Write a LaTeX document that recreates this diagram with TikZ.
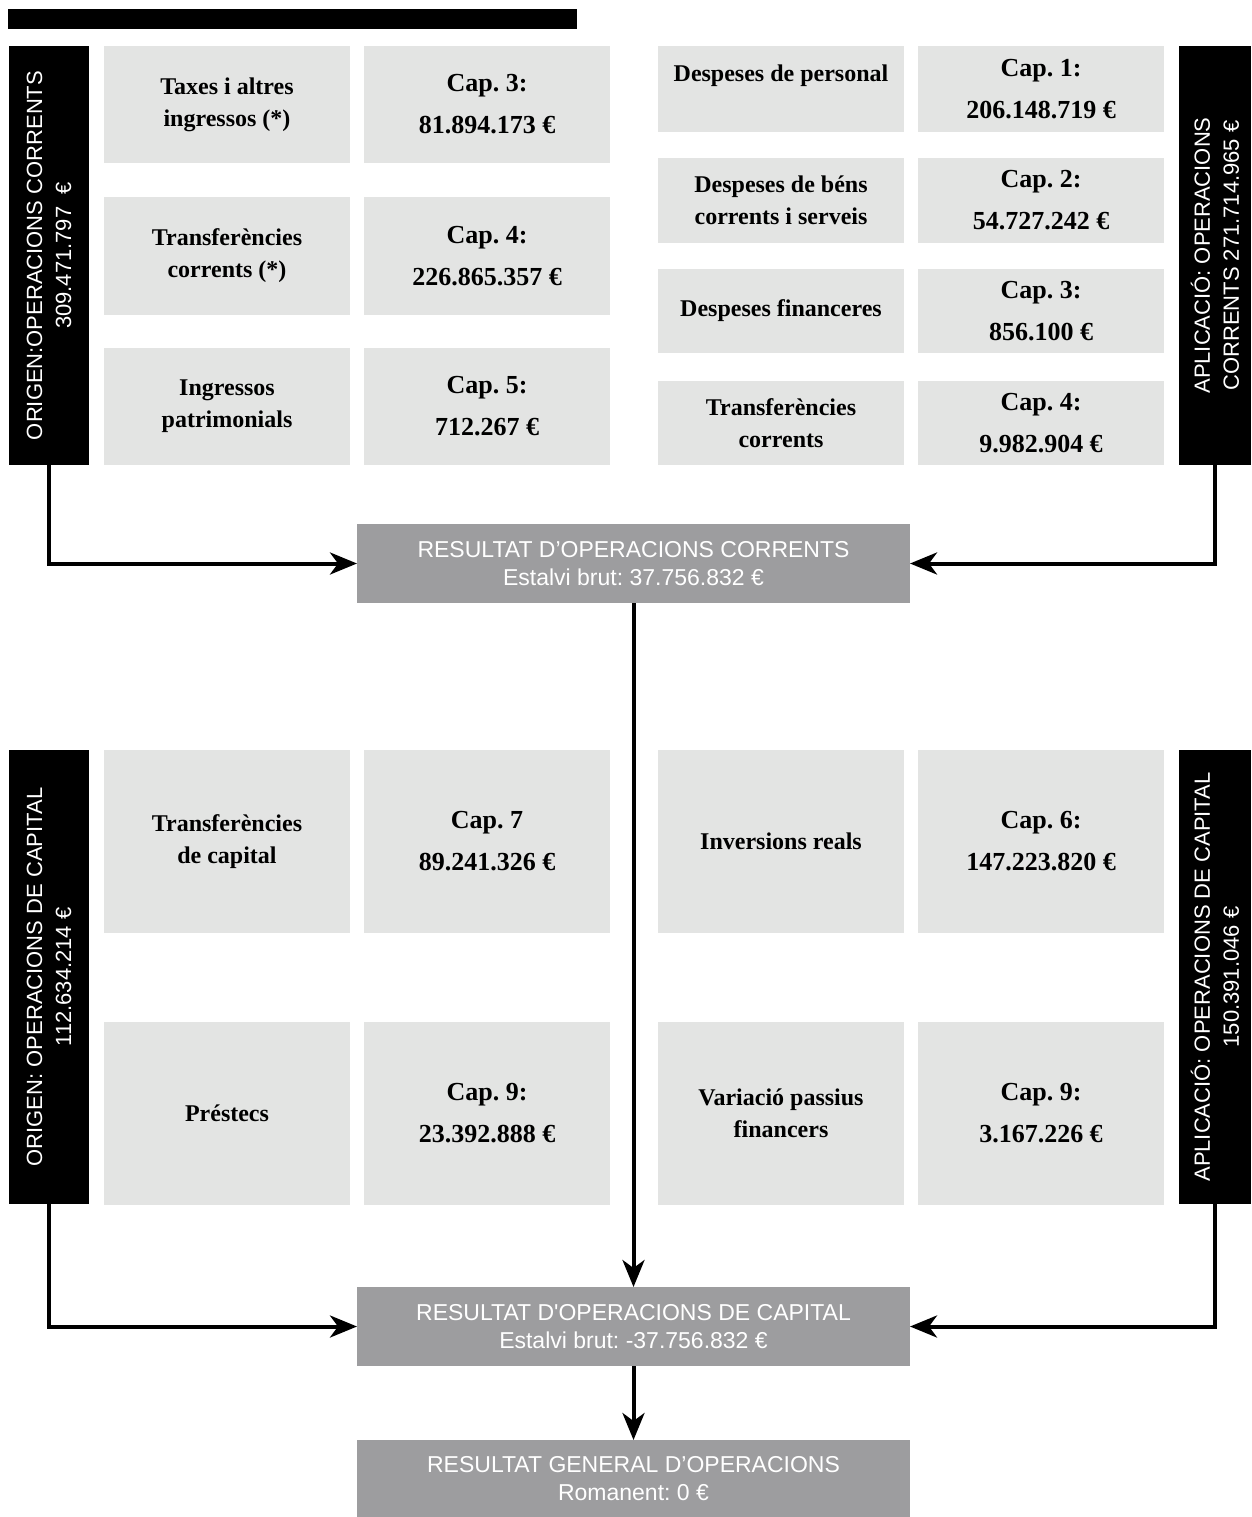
\documentclass[tikz,border=0pt]{standalone}
\usepackage{fontspec}
\setmainfont{Liberation Serif}
\setsansfont{Liberation Sans}
\usetikzlibrary{arrows.meta}
\definecolor{cellgrey}{HTML}{E3E4E3}
\definecolor{resultgrey}{HTML}{9D9D9F}
\frenchspacing
\tikzset{
  cell/.style={fill=cellgrey, inner sep=0pt, outer sep=0pt, minimum width=246pt, align=center},
  itembox/.style={cell, font=\bfseries\fontsize{24}{32}\selectfont},
  capbox/.style={cell, font=\bfseries\fontsize{26}{42}\selectfont},
  sidebox/.style={fill=black, text=white, rotate=90, inner sep=0pt, outer sep=0pt, align=center, font=\sffamily\fontsize{22}{29}\selectfont},
  result/.style={fill=resultgrey, text=white, inner sep=0pt, outer sep=0pt, minimum width=553pt, align=center, font=\sffamily\fontsize{23}{28}\selectfont},
  flow/.style={line width=4pt, -{Stealth[length=27pt,width=22pt,inset=8pt]}}
}
\begin{document}
\begin{tikzpicture}[x=1pt,y=-1pt]
      \useasboundingbox (0,0) rectangle (1251,1517);
      \node[fill=black, inner sep=0pt, minimum width=569pt, minimum height=20pt] (titlebar) at (292.5,19) {};
      % operacions corrents
      \node[sidebox, minimum width=419pt, minimum height=80pt] (lbox1) at (49,255.5) {ORIGEN:OPERACIONS CORRENTS\\309.471.797~~€};
      \node[itembox, minimum height=117pt] (taxes) at (227,104.5) {Taxes i altres\\ingressos (*)};
      \node[capbox, minimum height=117pt] (cap3in) at (487,104.5) {Cap. 3:\\81.894.173 €};
      \node[itembox, minimum height=118pt] (transin) at (227,256) {Transferències\\corrents (*)};
      \node[capbox, minimum height=118pt] (cap4in) at (487,256) {Cap. 4:\\226.865.357 €};
      \node[itembox, minimum height=117pt] (patrim) at (227,406.5) {Ingressos\\patrimonials};
      \node[capbox, minimum height=117pt] (cap5in) at (487,406.5) {Cap. 5:\\712.267 €};
      \node[itembox, minimum height=86pt] (personal) at (781,89) {Despeses de personal\\\mbox{}};
      \node[capbox, minimum height=86pt] (cap1out) at (1041,89) {Cap. 1:\\206.148.719 €};
      \node[itembox, minimum height=85pt] (bens) at (781,200.5) {Despeses de béns\\corrents i serveis};
      \node[capbox, minimum height=85pt] (cap2out) at (1041,200.5) {Cap. 2:\\54.727.242 €};
      \node[itembox, minimum height=84pt] (financ) at (781,311) {Despeses financeres};
      \node[capbox, minimum height=84pt] (cap3out) at (1041,311) {Cap. 3:\\856.100 €};
      \node[itembox, minimum height=84pt] (transout) at (781,423) {Transferències\\corrents};
      \node[capbox, minimum height=84pt] (cap4out) at (1041,423) {Cap. 4:\\9.982.904 €};
      \node[sidebox, minimum width=419pt, minimum height=72pt] (rbox1) at (1215,255.5) {APLICACIÓ: OPERACIONS\\CORRENTS 271.714.965 €};
      \node[result, minimum height=79pt] (res1) at (633.5,563.5) {RESULTAT D’OPERACIONS CORRENTS\\Estalvi brut: 37.756.832 €};
      % operacions de capital
      \node[sidebox, minimum width=454pt, minimum height=80pt] (lbox2) at (49,977) {ORIGEN: OPERACIONS DE CAPITAL\\112.634.214 €};
      \node[itembox, minimum height=183pt] (transcap) at (227,841.5) {Transferències\\de capital};
      \node[capbox, minimum height=183pt] (cap7in) at (487,841.5) {Cap. 7\\89.241.326 €};
      \node[itembox, minimum height=183pt] (prestecs) at (227,1113) {Préstecs};
      \node[capbox, minimum height=183pt] (cap9in) at (487,1113) {Cap. 9:\\23.392.888 €};
      \node[itembox, minimum height=183pt] (inversions) at (781,841.5) {Inversions reals};
      \node[capbox, minimum height=183pt] (cap6out) at (1041,841.5) {Cap. 6:\\147.223.820 €};
      \node[itembox, minimum height=183pt] (passius) at (781,1113) {Variació passius\\financers};
      \node[capbox, minimum height=183pt] (cap9out) at (1041,1113) {Cap. 9:\\3.167.226 €};
      \node[sidebox, minimum width=454pt, minimum height=72pt] (rbox2) at (1215,977) {APLICACIÓ: OPERACIONS DE CAPITAL\\150.391.046 €};
      \node[result, minimum height=79pt] (res2) at (633.5,1326.5) {RESULTAT D\textquotesingle OPERACIONS DE CAPITAL\\Estalvi brut: -37.756.832 €};
      \node[result, minimum height=77pt] (res3) at (633.5,1478.5) {RESULTAT GENERAL D’OPERACIONS\\Romanent: 0 €};
      \begin{scope}[flow]
        \draw (lbox1.west) |- (res1.west);
        \draw (rbox1.west) |- (res1.east);
        \draw (res1.south) -- (res2.north);
        \draw (lbox2.west) |- (res2.west);
        \draw (rbox2.west) |- (res2.east);
        \draw (res2.south) -- (res3.north);
      \end{scope}
    \end{tikzpicture}
\end{document}
